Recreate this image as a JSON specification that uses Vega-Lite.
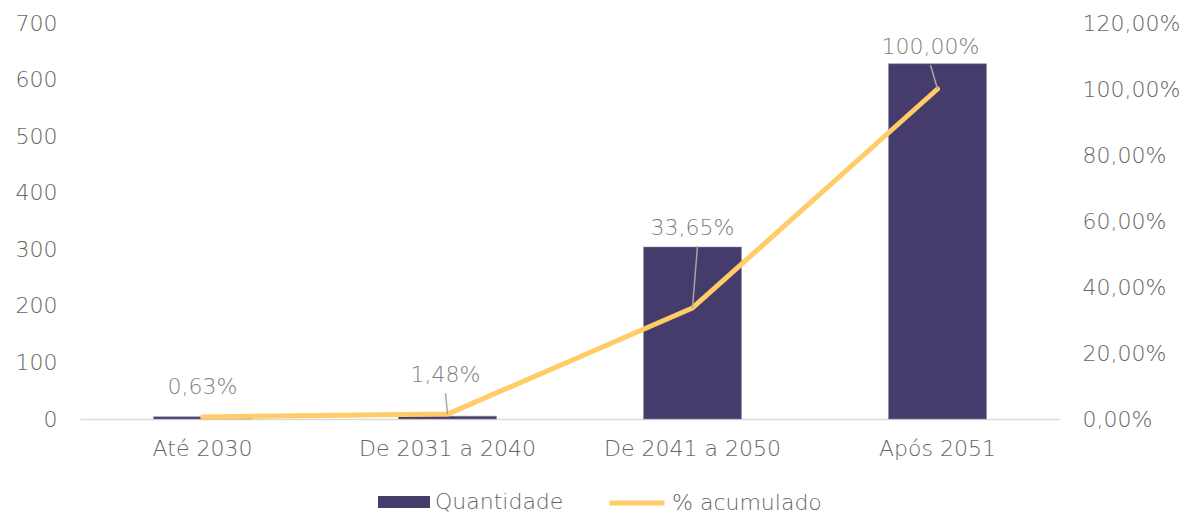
{
  "$schema": "https://vega.github.io/schema/vega-lite/v6.json",
  "width": 980,
  "height": 396,
  "autosize": {"type": "none"},
  "padding": {"left": 80, "top": 23, "right": 132, "bottom": 96},
  "background": "white",
  "data": {"values": [
    {"cat": "Até 2030", "qtd": 4, "pct": 0.0063},
    {"cat": "De 2031 a 2040", "qtd": 5, "pct": 0.0148},
    {"cat": "De 2041 a 2050", "qtd": 304, "pct": 0.3365},
    {"cat": "Após 2051", "qtd": 628, "pct": 1.0}
  ]},
  "encoding": {
    "x": {"field": "cat", "type": "nominal", "sort": null,
      "scale": {"paddingInner": 0.6, "paddingOuter": 0.3},
      "axis": {"title": null, "labelAngle": 0, "ticks": false, "labelPadding": 19, "domainColor": "#d9d9d9", "domainWidth": 1.5}}
  },
  "layer": [
    {
      "mark": {"type": "bar", "stroke": "#8a84a8", "strokeWidth": 0.5},
      "encoding": {
        "y": {"field": "qtd", "type": "quantitative", "scale": {"domain": [0, 700]},
          "axis": {"title": null, "values": [0,100,200,300,400,500,600,700], "grid": false, "domain": false, "ticks": false, "labelPadding": 23}},
        "fill": {"datum": "Quantidade", "type": "nominal",
          "scale": {"domain": ["Quantidade"], "range": ["#463c6b"]},
          "legend": {"title": null, "orient": "none", "legendX": 298, "legendY": 453, "direction": "horizontal",
            "labelOffset": 5, "symbolSize": 2704, "symbolType": "M-1,-0.23H1V0.23H-1Z", "symbolStrokeWidth": 0}}
      }
    },
    {
      "layer": [
        {
          "mark": {"type": "line", "strokeWidth": 5, "strokeCap": "round", "strokeJoin": "round"},
          "encoding": {
            "y": {"field": "pct", "type": "quantitative", "scale": {"domain": [0, 1.2]},
              "axis": {"title": null, "orient": "right", "format": ".2%", "values": [0,0.2,0.4,0.6,0.8,1.0,1.2], "grid": false, "domain": false, "ticks": false, "labelPadding": 22}},
            "stroke": {"datum": "% acumulado", "type": "nominal",
              "scale": {"domain": ["% acumulado"], "range": ["#ffcc66"]},
              "legend": {"title": null, "orient": "none", "legendX": 527, "legendY": 450, "direction": "horizontal",
                "labelOffset": 5, "symbolSize": 3025, "symbolType": "stroke", "symbolStrokeWidth": 5}}
          }
        },
        {
          "transform": [{"filter": "datum.pct > 0.01"}],
          "mark": {"type": "rule", "color": "#a6a6a6", "strokeWidth": 1.5,
            "y2Offset": {"expr": "datum.pct > 0.9 ? -24 : (datum.pct > 0.3 ? -62 : -21)"},
            "x2Offset": {"expr": "datum.pct > 0.9 ? -7 : (datum.pct > 0.3 ? 5 : -2)"}},
          "encoding": {
            "y": {"field": "pct", "type": "quantitative"},
            "y2": {"field": "pct"},
            "x2": {"field": "cat"}
          }
        },
        {
          "mark": {"type": "text", "fontSize": 22, "font": "DejaVu Sans", "fontWeight": 200, "color": "#7f7f7f", "baseline": "middle",
            "dy": {"expr": "datum.pct > 0.9 ? -42 : (datum.pct > 0.3 ? -80 : (datum.pct > 0.01 ? -39 : -30))"},
            "dx": {"expr": "datum.pct > 0.9 ? -7 : (datum.pct > 0.3 ? 0 : (datum.pct > 0.01 ? -2 : 0))"}},
          "encoding": {
            "y": {"field": "pct", "type": "quantitative"},
            "text": {"field": "pct", "type": "quantitative", "format": ".2%"}
          }
        }
      ]
    }
  ],
  "resolve": {"scale": {"y": "independent"}},
  "config": {
    "view": {"stroke": null},
    "axis": {"labelFont": "DejaVu Sans", "labelFontWeight": 200, "labelFontSize": 22, "labelColor": "#666666"},
    "legend": {"labelFont": "DejaVu Sans", "labelFontWeight": 200, "labelFontSize": 22, "labelColor": "#666666"},
    "locale": {"number": {"decimal": ",", "thousands": ".", "grouping": [3], "currency": ["R$", ""]}}
  }
}
